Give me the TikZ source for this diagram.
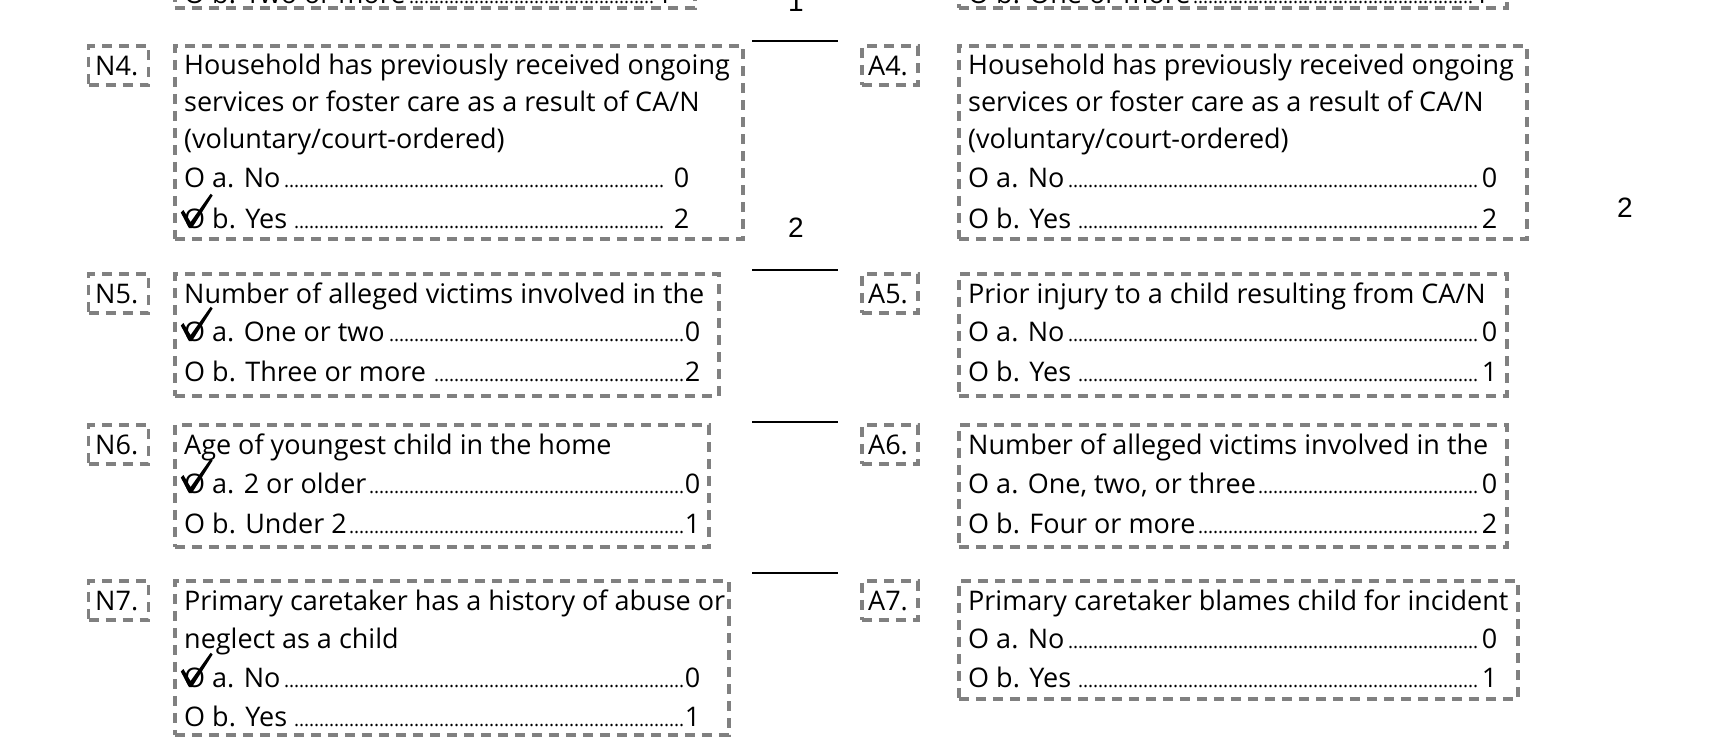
\documentclass[tikz,border=0pt]{standalone}
\usepackage{fontspec}
\setmainfont{Open Sans}
\newfontfamily\scorefont{Liberation Sans}
\definecolor{qgray}{RGB}{128,128,128}
\newcommand\qfont{\fontsize{27}{38}\selectfont}
\newcommand\dotlead{\leaders\hbox to 5pt{\hss\fontsize{19}{19}\selectfont.\hss}\hfill}
\newcommand\optline[2]{\hbox to #1{#2}}
\newcommand\checkat[1]{%
  \fill[black] ([shift={(-3.2,-15.5)}]#1.base west) -- ([shift={(-0.6,-18)}]#1.base west)
    -- ([shift={(6.6,-6)}]#1.base west) -- ([shift={(26.6,-34.2)}]#1.base west)
    -- ([shift={(28.7,-32.6)}]#1.base west) -- ([shift={(7.8,0.2)}]#1.base west)
    -- ([shift={(5,0.2)}]#1.base west) -- cycle;}
\tikzset{
  qbox/.style={draw=qgray, line width=3.6pt, dash pattern=on 10pt off 7pt, anchor=north west, inner sep=0pt},
  qtxt/.style={anchor=base west, inner sep=0pt, font=\qfont},
  scoreline/.style={line width=1.8pt},
  scorenum/.style={anchor=base, inner sep=0pt, font=\scorefont\fontsize{28}{28}\selectfont},
}
\begin{document}
\begin{tikzpicture}[x=1pt,y=-1pt]
\useasboundingbox (0,0) rectangle (1710,739);
\clip (0,0) rectangle (1710,739);
% ---- partial row at top
\node[qbox, anchor=south west, minimum width=520pt, minimum height=100pt] (n3) at (173,10) {};
\node[qtxt] (n3b) at (184,3) {\optline{488pt}{O b. Two or more\dotlead1}};
\node[qbox, anchor=south west, minimum width=548pt, minimum height=100pt] (a3) at (957,10) {};
\node[qtxt] (a3b) at (968,3) {\optline{521pt}{O b. One or more\dotlead1}};
\node[scorenum] (s3) at (796,11) {1};
% ---- row 4
\coordinate (l4a) at (752,40.7); \coordinate (l4b) at (838,40.7);
\draw[scoreline] (l4a) -- (l4b);
\node[qbox, minimum width=60pt, minimum height=39pt] (n4l) at (86.7,44) {};
\node[qtxt] (n4lt) at (95,75) {N4.};
\node[qbox, minimum width=568pt, minimum height=193pt] (n4) at (173,44) {};
\node[qtxt] (n4t1) at (184,74) {Household has previously received ongoing};
\node[qtxt] (n4t2) at (184,111) {services or foster care as a result of CA/N};
\node[qtxt] (n4t3) at (184,148) {(voluntary/court-ordered)};
\node[qtxt] (n4a) at (184,187) {\optline{505pt}{O a. No\dotlead\ 0}};
\node[qtxt] (n4b) at (184,228) {\optline{505pt}{O b. Yes \dotlead\ 2}};
\checkat{n4b}
\node[scorenum] (s4n) at (796,237) {2};
\node[qbox, minimum width=56pt, minimum height=39pt] (a4l) at (860,44) {};
\node[qtxt] (a4lt) at (868,75) {A4.};
\node[qbox, minimum width=568pt, minimum height=193pt] (a4) at (957,44) {};
\node[qtxt] (a4t1) at (968,74) {Household has previously received ongoing};
\node[qtxt] (a4t2) at (968,111) {services or foster care as a result of CA/N};
\node[qtxt] (a4t3) at (968,148) {(voluntary/court-ordered)};
\node[qtxt] (a4a) at (968,187) {\optline{529pt}{O a. No\dotlead0}};
\node[qtxt] (a4b) at (968,228) {\optline{529pt}{O b. Yes \dotlead2}};
\node[scorenum] (s4a) at (1625,217) {2};
% ---- row 5
\coordinate (l5a) at (752,270); \coordinate (l5b) at (838,270);
\draw[scoreline] (l5a) -- (l5b);
\node[qbox, minimum width=60pt, minimum height=39pt] (n5l) at (86.7,272) {};
\node[qtxt] (n5lt) at (95,303) {N5.};
\node[qbox, minimum width=544pt, minimum height=122pt] (n5) at (173,272) {};
\node[qtxt] (n5t1) at (184,303) {Number of alleged victims involved in the};
\node[qtxt] (n5a) at (184,341) {\optline{516pt}{O a. One or two\dotlead0}};
\node[qtxt] (n5b) at (184,381) {\optline{516pt}{O b. Three or more \dotlead2}};
\checkat{n5a}
\node[qbox, minimum width=56pt, minimum height=39pt] (a5l) at (860,272) {};
\node[qtxt] (a5lt) at (868,303) {A5.};
\node[qbox, minimum width=548pt, minimum height=122pt] (a5) at (957,272) {};
\node[qtxt] (a5t1) at (968,303) {Prior injury to a child resulting from CA/N};
\node[qtxt] (a5a) at (968,341) {\optline{529pt}{O a. No\dotlead0}};
\node[qtxt] (a5b) at (968,381) {\optline{529pt}{O b. Yes \dotlead1}};
% ---- row 6
\coordinate (l6a) at (752,422); \coordinate (l6b) at (838,422);
\draw[scoreline] (l6a) -- (l6b);
\node[qbox, minimum width=60pt, minimum height=39pt] (n6l) at (86.7,423) {};
\node[qtxt] (n6lt) at (95,454) {N6.};
\node[qbox, minimum width=534pt, minimum height=122pt] (n6) at (173,423) {};
\node[qtxt] (n6t1) at (184,454) {Age of youngest child in the home};
\node[qtxt] (n6a) at (184,493) {\optline{516pt}{O a. 2 or older\dotlead0}};
\node[qtxt] (n6b) at (184,533) {\optline{516pt}{O b. Under 2\dotlead1}};
\checkat{n6a}
\node[qbox, minimum width=56pt, minimum height=39pt] (a6l) at (860,423) {};
\node[qtxt] (a6lt) at (868,454) {A6.};
\node[qbox, minimum width=548pt, minimum height=122pt] (a6) at (957,423) {};
\node[qtxt] (a6t1) at (968,454) {Number of alleged victims involved in the};
\node[qtxt] (a6a) at (968,493) {\optline{529pt}{O a. One, two, or three\dotlead0}};
\node[qtxt] (a6b) at (968,533) {\optline{529pt}{O b. Four or more\dotlead2}};
% ---- row 7
\coordinate (l7a) at (752,573); \coordinate (l7b) at (838,573);
\draw[scoreline] (l7a) -- (l7b);
\node[qbox, minimum width=60pt, minimum height=39pt] (n7l) at (86.7,579) {};
\node[qtxt] (n7lt) at (95,610) {N7.};
\node[qbox, minimum width=554pt, minimum height=154pt] (n7) at (173,579) {};
\node[qtxt] (n7t1) at (184,610) {Primary caretaker has a history of abuse or};
\node[qtxt] (n7t2) at (184,648) {neglect as a child};
\node[qtxt] (n7a) at (184,687) {\optline{516pt}{O a. No\dotlead0}};
\node[qtxt] (n7b) at (184,726) {\optline{516pt}{O b. Yes \dotlead1}};
\checkat{n7a}
\node[qbox, minimum width=56pt, minimum height=39pt] (a7l) at (860,579) {};
\node[qtxt] (a7lt) at (868,610) {A7.};
\node[qbox, minimum width=559pt, minimum height=118pt] (a7) at (957,579) {};
\node[qtxt] (a7t1) at (968,610) {Primary caretaker blames child for incident};
\node[qtxt] (a7a) at (968,648) {\optline{529pt}{O a. No\dotlead0}};
\node[qtxt] (a7b) at (968,687) {\optline{529pt}{O b. Yes \dotlead1}};
\end{tikzpicture}
\end{document}
